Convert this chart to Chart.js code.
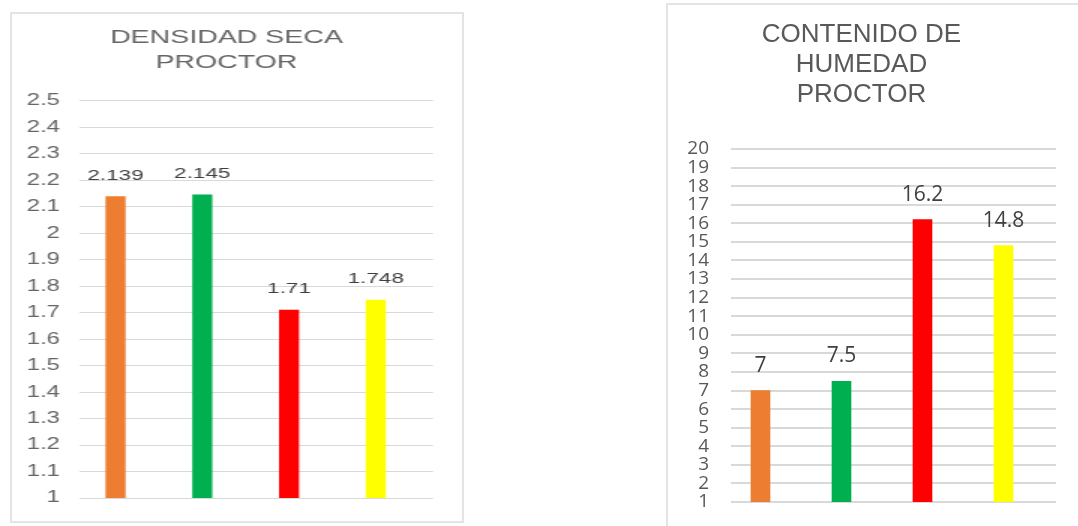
<!DOCTYPE html>
<html>
<head>
<meta charset="utf-8">
<script src="https://cdn.jsdelivr.net/npm/chart.js@4"></script>
<style>
  body { margin: 0; background: #fff; width: 1078px; height: 526px; position: relative; overflow: hidden; }
  .box1 { position: absolute; left: 10px; top: 12px; width: 454px; height: 511px; border: 2px solid #e4e4e4; box-sizing: border-box; }
  .box2 { position: absolute; left: 666px; top: 3px; width: 412px; height: 523px; border-left: 2px solid #e4e4e4; border-top: 2px solid #e4e4e4; box-sizing: border-box; }
  canvas { position: absolute; top: 0; }
  #densidad { left: 0; }
  #humedad { left: 667px; }
</style>
</head>
<body>
<div class="box1"></div>
<div class="box2"></div>
<!-- the left chart in the picture is stretched sideways, so its canvas is too -->
<canvas id="densidad" width="302" height="526" style="width:453px;height:526px"></canvas>
<canvas id="humedad" width="390" height="526"></canvas>
<script>
var categories = ["1", "2", "3", "4"],
  densidad = [2.139, 2.145, 1.71, 1.748],
  humedad = [7, 7.5, 16.2, 14.8],
  barColors = ["#ED7D31", "#00B050", "#FF0000", "#FFFF00"],
  densidadTicks = { min: 1, max: 2.5, step: 0.1 },
  humedadTicks = { min: 1, max: 20, step: 1 };

// simple value labels above each bar
var valueLabels = {
  id: "valueLabels",
  afterDatasetsDraw: function(chart, args, opts) {
    var c = chart.ctx;
    var meta = chart.getDatasetMeta(0);
    c.save();
    c.font = opts.font;
    c.fillStyle = opts.color;
    c.textAlign = "center";
    c.textBaseline = "middle";
    meta.data.forEach(function(bar, i) {
      c.fillText(String(chart.data.datasets[0].data[i].y), bar.x, bar.y - opts.offset);
    });
    c.restore();
  }
};

function points(values) {
  return values.map(function(v, i) {
    return { x: i, y: v };
  });
}

function makeChart(el, cfg) {
  return new Chart(el, {
    type: "bar",
    data: {
      labels: categories,
      datasets: [
        {
          data: points(cfg.values),
          backgroundColor: barColors,
          barThickness: cfg.barThickness
        }
      ]
    },
    plugins: [valueLabels],
    options: {
      responsive: false,
      animation: false,
      layout: { padding: cfg.padding },
      plugins: {
        legend: { display: false },
        tooltip: { enabled: false },
        title: {
          display: true,
          text: cfg.title,
          color: cfg.titleColor,
          font: cfg.titleFont,
          padding: cfg.titlePadding
        },
        valueLabels: cfg.labels
      },
      scales: {
        x: { type: "linear", offset: false, min: cfg.xmin, max: cfg.xmax, display: false },
        y: {
          min: cfg.ticks.min,
          max: cfg.ticks.max,
          border: { display: false },
          // invisible tick marks keep the labels away from the plot
          grid: {
            color: "#d9d9d9",
            lineWidth: cfg.gridWidth,
            drawTicks: true,
            tickLength: cfg.tickGap,
            tickColor: "rgba(0,0,0,0)"
          },
          afterFit: function(scale) {
            scale.width = cfg.axisWidth;
          },
          ticks: {
            stepSize: cfg.ticks.step,
            autoSkip: false,
            padding: 6,
            color: cfg.tickColor,
            font: cfg.tickFont,
            callback: function(v) {
              return String(+v.toFixed(1));
            }
          }
        }
      }
    }
  });
}

makeChart(document.getElementById("densidad"), {
  values: densidad,
  ticks: densidadTicks,
  title: ["DENSIDAD SECA", "PROCTOR"],
  titleColor: "#666666",
  titleFont: { family: "Liberation Sans", size: 19, weight: "normal", lineHeight: 1.28 },
  titlePadding: { top: 25.8, bottom: 26.5 },
  padding: { left: 13.3, right: 13.3, top: 0, bottom: 28 },
  axisWidth: 40,
  tickGap: 7.3,
  tickColor: "#666666",
  tickFont: { family: "Liberation Sans", size: 16 },
  gridWidth: 1,
  barThickness: 12.7,
  xmin: -0.41,
  xmax: 3.66,
  labels: { font: "15px 'Liberation Sans'", color: "#404040", offset: 21 }
});

makeChart(document.getElementById("humedad"), {
  values: humedad,
  ticks: humedadTicks,
  title: ["CONTENIDO DE", "HUMEDAD", "PROCTOR"],
  titleColor: "#595959",
  titleFont: { family: "Liberation Sans", size: 26, weight: "normal", lineHeight: 1.154 },
  titlePadding: { top: 20, bottom: 39 },
  padding: { left: 0, right: 1, top: 0, bottom: 24 },
  axisWidth: 64,
  tickGap: 16,
  tickColor: "#595959",
  tickFont: { family: "Open Sans", size: 19, lineHeight: 1 },
  gridWidth: 2,
  barThickness: 19,
  xmin: -0.364,
  xmax: 3.648,
  labels: { font: "21px 'Open Sans'", color: "#404040", offset: 25 }
});
</script>
</body>
</html>
